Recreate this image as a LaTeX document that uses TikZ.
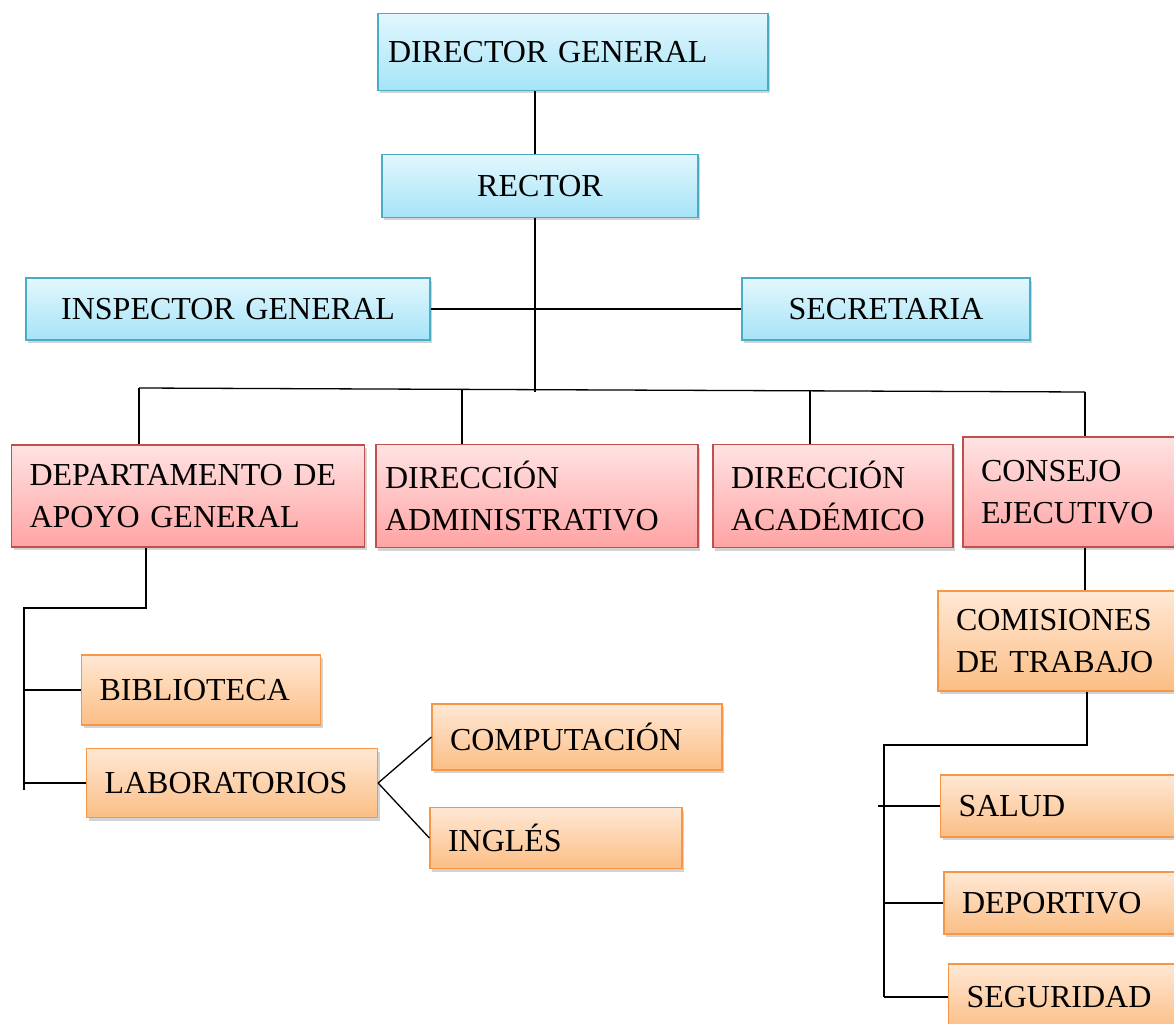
\documentclass[tikz,border=0pt]{standalone}
\usepackage{fontspec}
\setmainfont{Liberation Serif}
\usepackage{tikz}
\usetikzlibrary{positioning,shadows}

\definecolor{bluetop}{HTML}{E2F7FD}
\definecolor{bluebot}{HTML}{A6E4F7}
\definecolor{blueline}{HTML}{4BACC6}
\definecolor{redtop}{HTML}{FFE3E3}
\definecolor{redbot}{HTML}{FFA3A3}
\definecolor{redline}{HTML}{C0504D}
\definecolor{orangetop}{HTML}{FFE8D5}
\definecolor{orangebot}{HTML}{FBBE85}
\definecolor{orangeline}{HTML}{F79646}

\begin{document}
\begin{tikzpicture}[x=1pt,y=-1pt,
    box/.style={rectangle,draw,line width=1.2pt,inner xsep=18pt,inner ysep=2pt,
      font=\fontsize{32}{42}\selectfont,
      drop shadow={shadow xshift=2pt,shadow yshift=-3pt,opacity=.35}},
    bluebox/.style={box,draw=blueline,top color=bluetop,bottom color=bluebot},
    redbox/.style={box,draw=redline,top color=redtop,bottom color=redbot,align=left},
    orangebox/.style={box,draw=orangeline,top color=orangetop,bottom color=orangebot,align=left},
    link/.style={line width=1.3pt,black}]
    \useasboundingbox (0,0) rectangle (1174,1024);

    % Top
    \node[bluebox,align=left,inner xsep=10pt,text width=370pt,minimum height=77pt] (dg) at (573,52) {DIRECTOR GENERAL\\[6pt]};
    \node[bluebox,align=center,text width=280pt,minimum height=63pt] (rector) at (540,186) {RECTOR};
    \node[bluebox,align=center,text width=368pt,minimum height=62pt] (insp) at (228,309) {INSPECTOR GENERAL};
    \node[bluebox,align=center,text width=252pt,minimum height=62pt] (secre) at (886,309) {SECRETARIA};

    % Departments
    \node[redbox,text width=317pt,minimum height=102pt] (dept) at (188,496) {DEPARTAMENTO DE\\APOYO GENERAL};
    \node[redbox,inner xsep=9pt,text width=304pt,minimum height=103pt] (adm) at (537,496) {DIRECCIÓN\\ADMINISTRATIVO};
    \node[redbox,text width=204pt,minimum height=103pt] (acad) at (833,496) {DIRECCIÓN\\ACADÉMICO};
    \node[redbox,text width=182pt,minimum height=110pt] (consejo) at (1072,492) {CONSEJO\\EJECUTIVO};

    % Support
    \node[orangebox,text width=203pt,minimum height=70pt] (biblio) at (201,690) {BIBLIOTECA};
    \node[orangebox,text width=255pt,minimum height=69pt] (lab) at (232,783) {LABORATORIOS};
    \node[orangebox,text width=254pt,minimum height=66pt] (comp) at (577,737) {COMPUTACIÓN};
    \node[orangebox,text width=216pt,minimum height=61pt] (ingles) at (556,838) {INGLÉS};

    % Commissions
    \node[orangebox,text width=204pt,minimum height=100pt] (comis) at (1058,641) {COMISIONES\\DE TRABAJO};
    \node[orangebox,text width=203pt,minimum height=62pt] (salud) at (1060,806) {SALUD};
    \node[orangebox,text width=200pt,minimum height=62pt] (deport) at (1062,903) {DEPORTIVO};
    \node[orangebox,text width=195pt,minimum height=66pt] (segur) at (1064,997) {SEGURIDAD};

    % Bus points
    \coordinate (bus0) at (535,392);
    \coordinate (bus1) at (139,388);
    \coordinate (bus2) at (462,390);
    \coordinate (bus3) at (810,391);
    \coordinate (bus4) at (1085,392);
    \coordinate (dsplit) at (146,608);
    \coordinate (dleft) at (24,608);
    \coordinate (dend) at (24,790);
    \coordinate (csplit) at (1087,745);
    \coordinate (cleft) at (884,745);

    % Connections
    \draw[link] (bus0 |- rector.north) -- (bus0 |- dg.south);
    \draw[link] (bus0 |- rector.south) -- (bus0);
    \draw[link] (insp.east) -- (secre.west);
    \draw[link] (bus1) -- (bus4);
    \draw[link] (bus1) -- (bus1 |- dept.north);
    \draw[link] (bus2) -- (bus2 |- adm.north);
    \draw[link] (bus3) -- (bus3 |- acad.north);
    \draw[link] (bus4) -- (bus4 |- consejo.north);
    \draw[link] (dsplit |- dept.south) -- (dsplit) -- (dleft) -- (dend);
    \draw[link] (biblio.west) -- (biblio.west -| dleft);
    \draw[link] (lab.west) -- (lab.west -| dleft);
    \draw[link] (lab.east) -- (comp.west);
    \draw[link] (lab.east) -- (ingles.west);
    \draw[link] (bus4 |- consejo.south) -- (bus4 |- comis.north);
    \draw[link] (csplit |- comis.south) -- (csplit) -- (cleft) -- (cleft |- segur.west);
    \draw[link] (salud.west) -- ([xshift=-6pt]salud.west -| cleft);
    \draw[link] (deport.west) -- (deport.west -| cleft);
    \draw[link] (segur.west) -- (segur.west -| cleft);
\end{tikzpicture}
\end{document}
